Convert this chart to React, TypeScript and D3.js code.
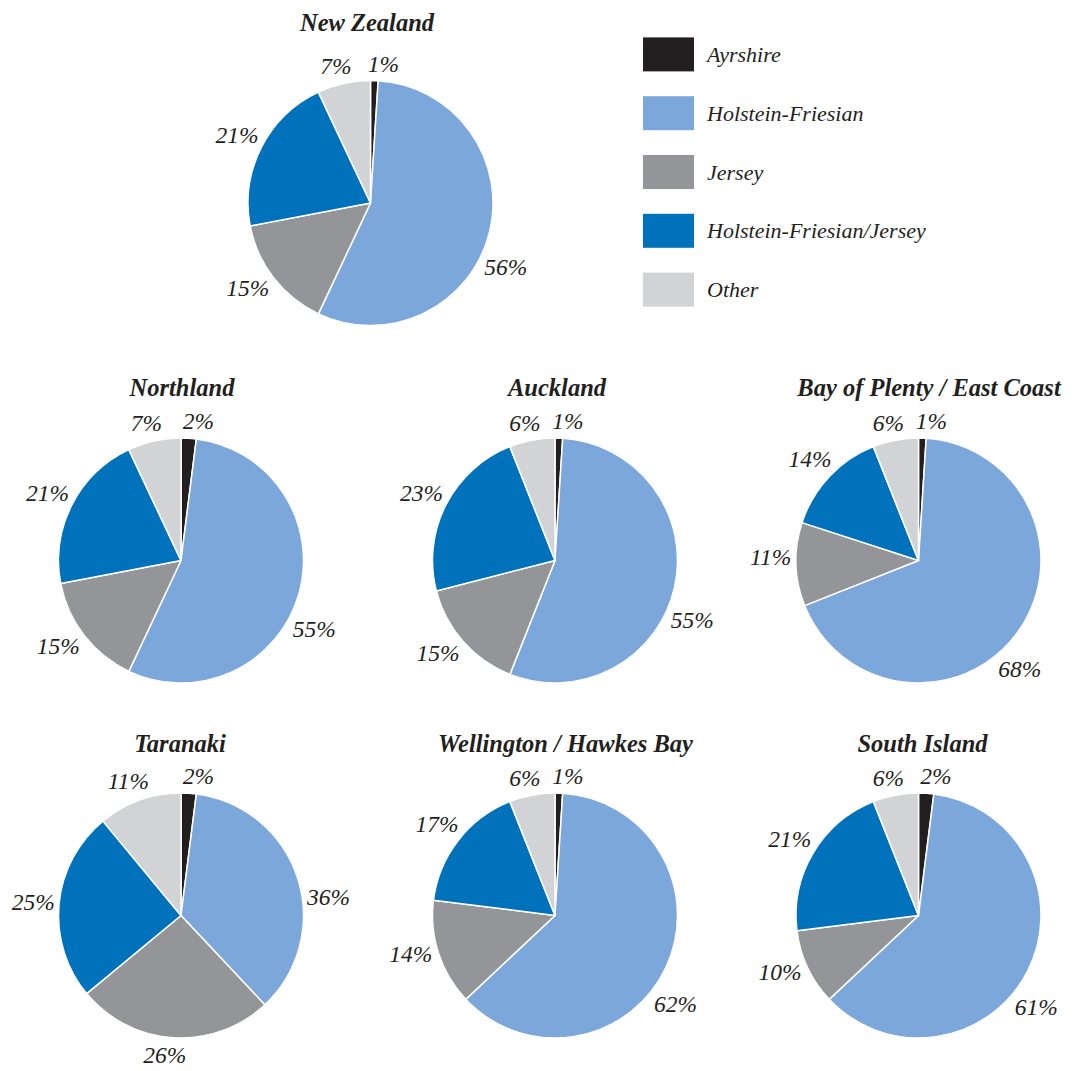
import React from "react";
import * as d3 from "d3";

const breeds = ["Ayrshire", "Holstein-Friesian", "Jersey", "Holstein-Friesian/Jersey", "Other"];
const breedColors = ["#231f20", "#7ba7db", "#939598", "#0072bc", "#d1d3d4"];

const regionNames = [
  "New Zealand",
  "Northland",
  "Auckland",
  "Bay of Plenty / East Coast",
  "Taranaki",
  "Wellington / Hawkes Bay",
  "South Island",
];

const newZealand = [1, 56, 15, 21, 7];
const northland = [2, 55, 15, 21, 7];
const auckland = [1, 55, 15, 23, 6];
const bayOfPlenty = [1, 68, 11, 14, 6];
const taranaki = [2, 36, 26, 25, 11];
const wellington = [1, 62, 14, 17, 6];
const southIsland = [2, 61, 10, 21, 6];

const regionValues = [newZealand, northland, auckland, bayOfPlenty, taranaki, wellington, southIsland];

// layout
const W = 1074;
const H = 1071;
const R = 122.5;
const centers: [number, number][] = [
  [370.5, 203],
  [181, 560.5],
  [555, 560.5],
  [918.5, 560.5],
  [181, 915.5],
  [555, 915.5],
  [918.5, 915.5],
];
const titleDx = [-3.5, 1, 2, 10.5, -1, 10.5, 4];
const titleDy = [-50, -42, -42, -42, -41, -41, -41];
// small angular nudges (degrees) for label placement per breed
const labelShift = [3.5, 11, 3, 0, -1.5];

const FONT = "'Liberation Serif', 'Times New Roman', serif";
const LABEL_SIZE = 23.5;

function Pie({ idx }: { idx: number }) {
  const name = regionNames[idx];
  const values = regionValues[idx];
  const [cx, cy] = centers[idx];
  const pie = d3
    .pie<number>()
    .sort(null)
    .value((d) => d)
    .startAngle(0)
    .endAngle(2 * Math.PI);
  const arc = d3.arc<d3.PieArcDatum<number>>().innerRadius(0).outerRadius(R);
  const arcs = pie(values);
  return (
    <g transform={`translate(${cx},${cy})`}>
      <text
        x={titleDx[idx]}
        y={-R + titleDy[idx]}
        textAnchor="middle"
        fontFamily={FONT}
        fontStyle="italic"
        fontWeight="bold"
        fontSize={24.5}
        fill="#231f20"
      >
        {name}
      </text>
      {arcs.map((a, i) => (
        <path key={i} d={arc(a) || ""} fill={breedColors[i]} stroke="#ffffff" strokeWidth={1.5} strokeLinejoin="round" />
      ))}
      {arcs.map((a, i) => {
        const ang = (a.startAngle + a.endAngle) / 2 + (labelShift[i] * Math.PI) / 180;
        const dx = Math.sin(ang);
        const dy = -Math.cos(ang);
        const txt = `${a.data}%`;
        const w = txt.length * 11.5;
        const h = 17;
        const dist = R + 8 + (w / 2) * Math.abs(dx) + (h / 2) * Math.abs(dy);
        return (
          <text
            key={"l" + i}
            x={dx * dist}
            y={dy * dist}
            textAnchor="middle"
            dominantBaseline="central"
            fontFamily={FONT}
            fontStyle="italic"
            fontSize={LABEL_SIZE}
            fill="#231f20"
          >
            {txt}
          </text>
        );
      })}
    </g>
  );
}

export default function App() {
  const legendY = d3.scaleBand<number>().domain(d3.range(breeds.length)).range([25, 319]);
  return (
    <div>
      <style>{`body{margin:0;background:#fff}`}</style>
      <svg width={W} height={H} viewBox={`0 0 ${W} ${H}`} style={{ display: "block" }}>
        <rect width={W} height={H} fill="#ffffff" />
        {regionNames.map((n, i) => (
          <Pie key={n} idx={i} />
        ))}
        <g>
          {breeds.map((b, i) => {
            const yc = (legendY(i) as number) + legendY.bandwidth() / 2;
            return (
              <g key={b}>
                <rect x={643} y={yc - 17} width={51} height={34} fill={breedColors[i]} />
                <text
                  x={707}
                  y={yc}
                  dominantBaseline="central"
                  fontFamily={FONT}
                  fontStyle="italic"
                  fontSize={22}
                  fill="#231f20"
                >
                  {b}
                </text>
              </g>
            );
          })}
        </g>
      </svg>
    </div>
  );
}
